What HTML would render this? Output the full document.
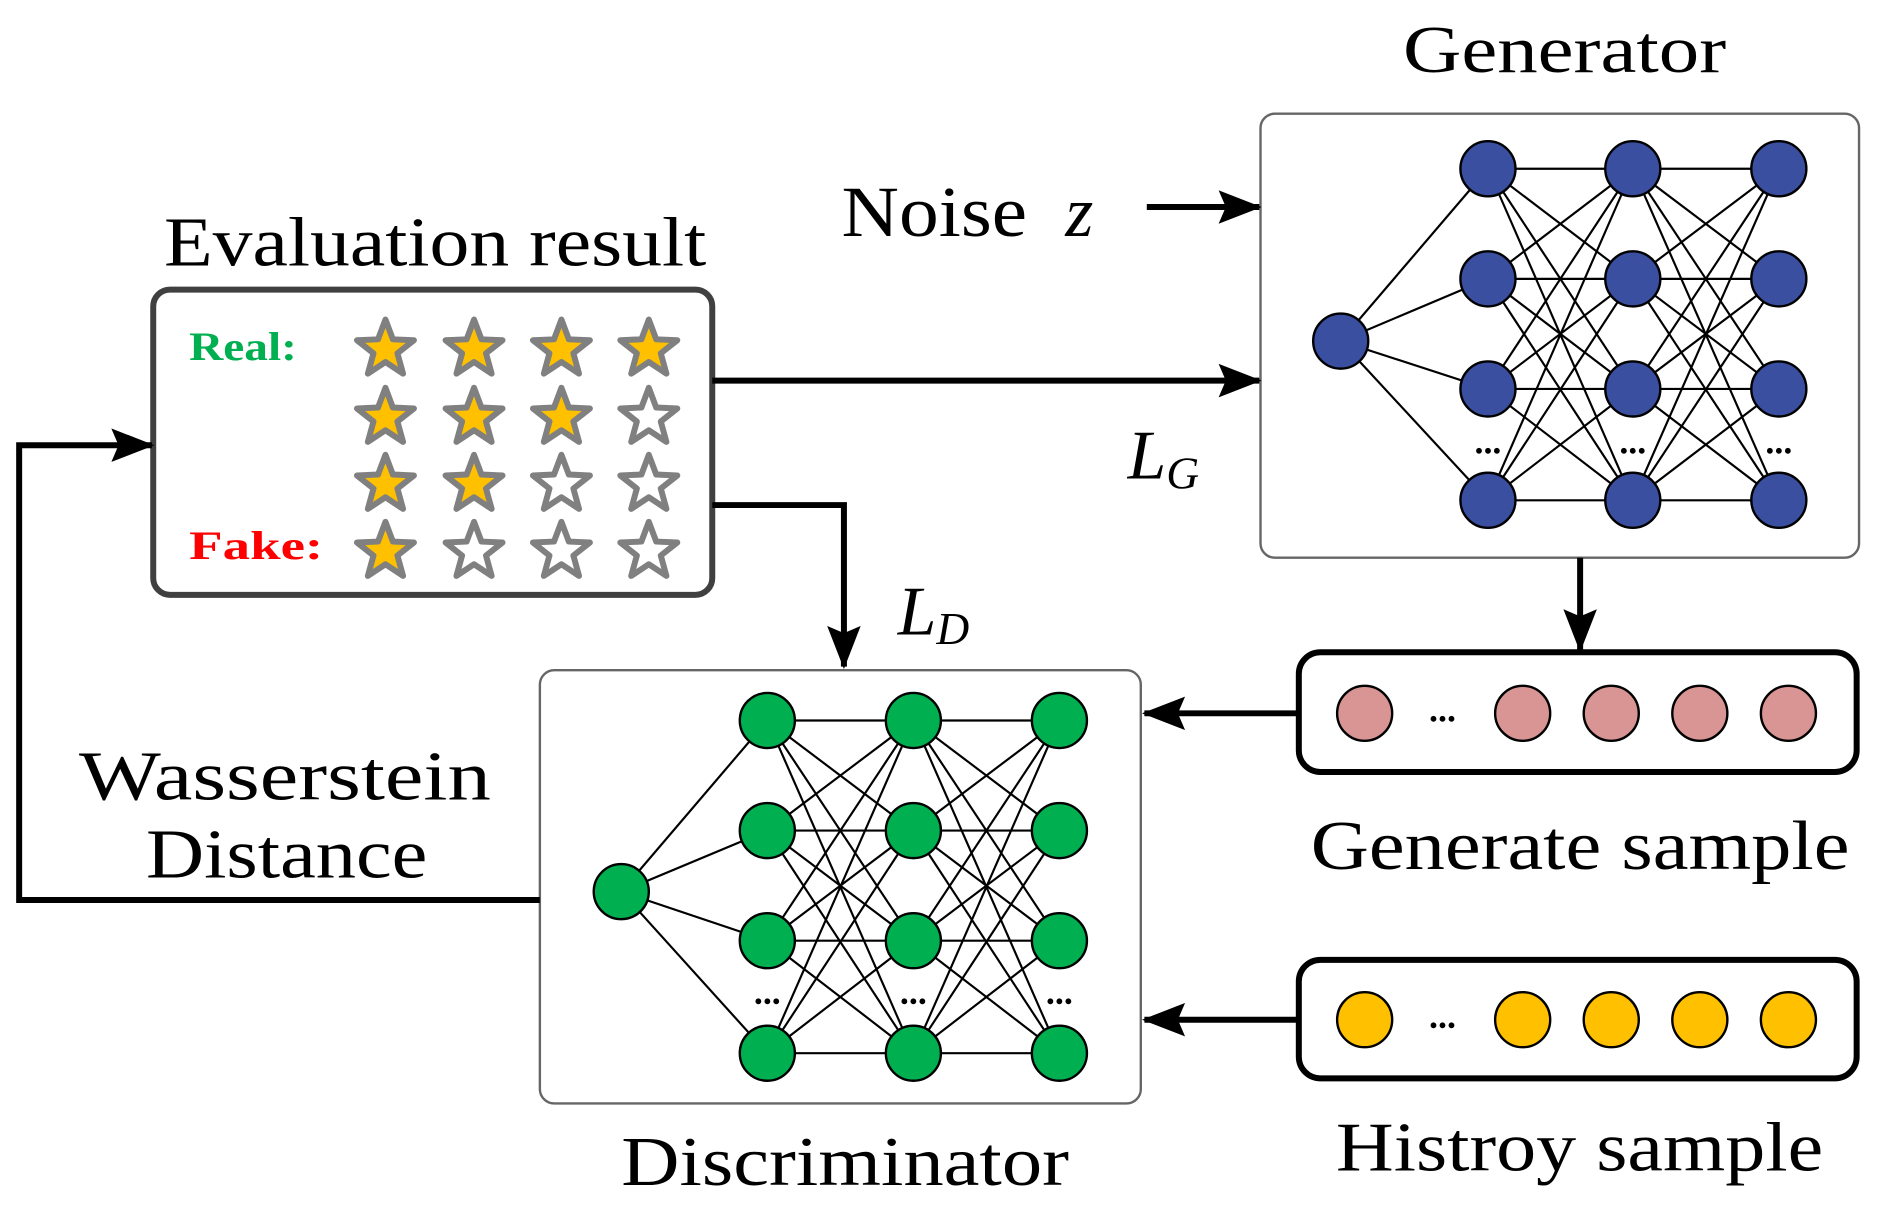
<!DOCTYPE html>
<html><head><meta charset="utf-8"><style>
html,body{margin:0;padding:0;background:#fff;}
svg{display:block;}
text{font-family:"Liberation Serif",serif;}
</style></head><body>
<svg id="s" width="1877" height="1210" viewBox="0 0 1568 1011" preserveAspectRatio="none" xmlns="http://www.w3.org/2000/svg">
<defs>
<marker id="a2" markerWidth="36" markerHeight="28" refX="34" refY="14" orient="auto" markerUnits="userSpaceOnUse"><path d="M0,0 L36,14 L0,28 L6,14 z" fill="#000"/></marker></defs>
<g id="lines"></g>
<rect x="1053" y="95" width="500" height="371" rx="12" fill="none" stroke="#666" stroke-width="2"/>
<rect x="451" y="560" width="502" height="362" rx="12" fill="none" stroke="#666" stroke-width="2"/>
<rect x="128" y="242" width="467" height="255" rx="14" fill="none" stroke="#404040" stroke-width="5"/>
<rect x="1085" y="545" width="466" height="100" rx="18" fill="none" stroke="#000" stroke-width="5"/>
<rect x="1085" y="802" width="466" height="99" rx="18" fill="none" stroke="#000" stroke-width="5"/>
<g id="nodes"></g>
<g stroke="#000" stroke-width="5" fill="none">
<line x1="958" y1="173" x2="1052" y2="173" marker-end="url(#a2)"/>
<line x1="595" y1="318" x2="1052" y2="318" marker-end="url(#a2)"/>
<polyline points="595,422 705,422 705,557" marker-end="url(#a2)"/>
<polyline points="451,752 16,752 16,372 127,372" marker-end="url(#a2)"/>
<line x1="1320" y1="466" x2="1320" y2="543" marker-end="url(#a2)"/>
<line x1="1085" y1="596" x2="956" y2="596" marker-end="url(#a2)"/>
<line x1="1085" y1="852" x2="956" y2="852" marker-end="url(#a2)"/>
</g>
<text x="1172" y="60" font-size="56" textLength="270" lengthAdjust="spacingAndGlyphs">Generator</text>
<text x="703" y="197" font-size="60" textLength="155" lengthAdjust="spacingAndGlyphs">Noise</text>
<text x="890" y="197" font-size="60" font-style="italic">z</text>
<text x="137" y="222" font-size="58" textLength="453" lengthAdjust="spacingAndGlyphs">Evaluation result</text>
<text x="158" y="301" font-size="34" font-weight="bold" fill="#00b050" textLength="90" lengthAdjust="spacingAndGlyphs">Real:</text>
<text x="158" y="467" font-size="34" font-weight="bold" fill="#ff0000" textLength="112" lengthAdjust="spacingAndGlyphs">Fake:</text>
<text x="942" y="400" font-size="58" font-style="italic">L<tspan font-size="38" dy="8">G</tspan></text>
<text x="750" y="530" font-size="58" font-style="italic">L<tspan font-size="38" dy="8">D</tspan></text>
<text x="66" y="668" font-size="58" textLength="344" lengthAdjust="spacingAndGlyphs">Wasserstein</text>
<text x="122" y="733" font-size="58" textLength="235" lengthAdjust="spacingAndGlyphs">Distance</text>
<text x="519" y="990" font-size="58" textLength="374" lengthAdjust="spacingAndGlyphs">Discriminator</text>
<text x="1095" y="726" font-size="58" textLength="450" lengthAdjust="spacingAndGlyphs">Generate sample</text>
<text x="1116" y="978" font-size="58" textLength="407" lengthAdjust="spacingAndGlyphs">Histroy sample</text>
<text x="1205" y="603" font-size="30" font-weight="bold" text-anchor="middle">...</text>
<text x="1205" y="859" font-size="30" font-weight="bold" text-anchor="middle">...</text>
<text x="1243" y="379" font-size="30" font-weight="bold" text-anchor="middle">...</text>
<text x="1364" y="379" font-size="30" font-weight="bold" text-anchor="middle">...</text>
<text x="1486" y="379" font-size="30" font-weight="bold" text-anchor="middle">...</text>
<text x="641" y="839" font-size="30" font-weight="bold" text-anchor="middle">...</text>
<text x="763" y="839" font-size="30" font-weight="bold" text-anchor="middle">...</text>
<text x="885" y="839" font-size="30" font-weight="bold" text-anchor="middle">...</text>
</svg>
<script>
var NS="http://www.w3.org/2000/svg";
var L=document.getElementById('lines'),N=document.getElementById('nodes');
function el(p,t,a){var e=document.createElementNS(NS,t);for(var k in a)e.setAttribute(k,a[k]);p.appendChild(e);return e;}
function net(ix,iy,cols,rows,fill,r){
 var c0=cols[0];
 rows.forEach(function(y){el(L,'line',{x1:ix,y1:iy,x2:c0,y2:y,stroke:'#000','stroke-width':1.8});});
 for(var i=0;i<cols.length-1;i++)rows.forEach(function(a){rows.forEach(function(b){el(L,'line',{x1:cols[i],y1:a,x2:cols[i+1],y2:b,stroke:'#000','stroke-width':1.8});});});
 el(N,'circle',{cx:ix,cy:iy,r:r,fill:fill,stroke:'#000','stroke-width':2});
 cols.forEach(function(x){rows.forEach(function(y){el(N,'circle',{cx:x,cy:y,r:r,fill:fill,stroke:'#000','stroke-width':2});});});
}
net(1120,285,[1243,1364,1486],[141,233,325,418],'#3a4fa0',23);
net(519,745,[641,763,885],[602,694,786,880],'#00b050',23);
[1140,1272,1346,1420,1494].forEach(function(x){el(N,'circle',{cx:x,cy:596,r:23,fill:'#d99594',stroke:'#000','stroke-width':2});
 el(N,'circle',{cx:x,cy:852,r:23,fill:'#ffc000',stroke:'#000','stroke-width':2});});
function star(cx,cy,f){var p=[];for(var i=0;i<10;i++){var R=i%2?10.5:25,a=-Math.PI/2+i*Math.PI/5;p.push((cx+R*Math.cos(a)).toFixed(1)+','+(cy+2+R*Math.sin(a)).toFixed(1));}
 el(N,'polygon',{points:p.join(' '),fill:f?'#ffc000':'#fff',stroke:'#808080','stroke-width':5,'stroke-linejoin':'round'});}
var xs=[322,396,469,542],ys=[290,347,403,459],cnt=[4,3,2,1];
ys.forEach(function(y,j){xs.forEach(function(x,i){star(x,y,i<cnt[j]);});});
</script>
</body></html>
